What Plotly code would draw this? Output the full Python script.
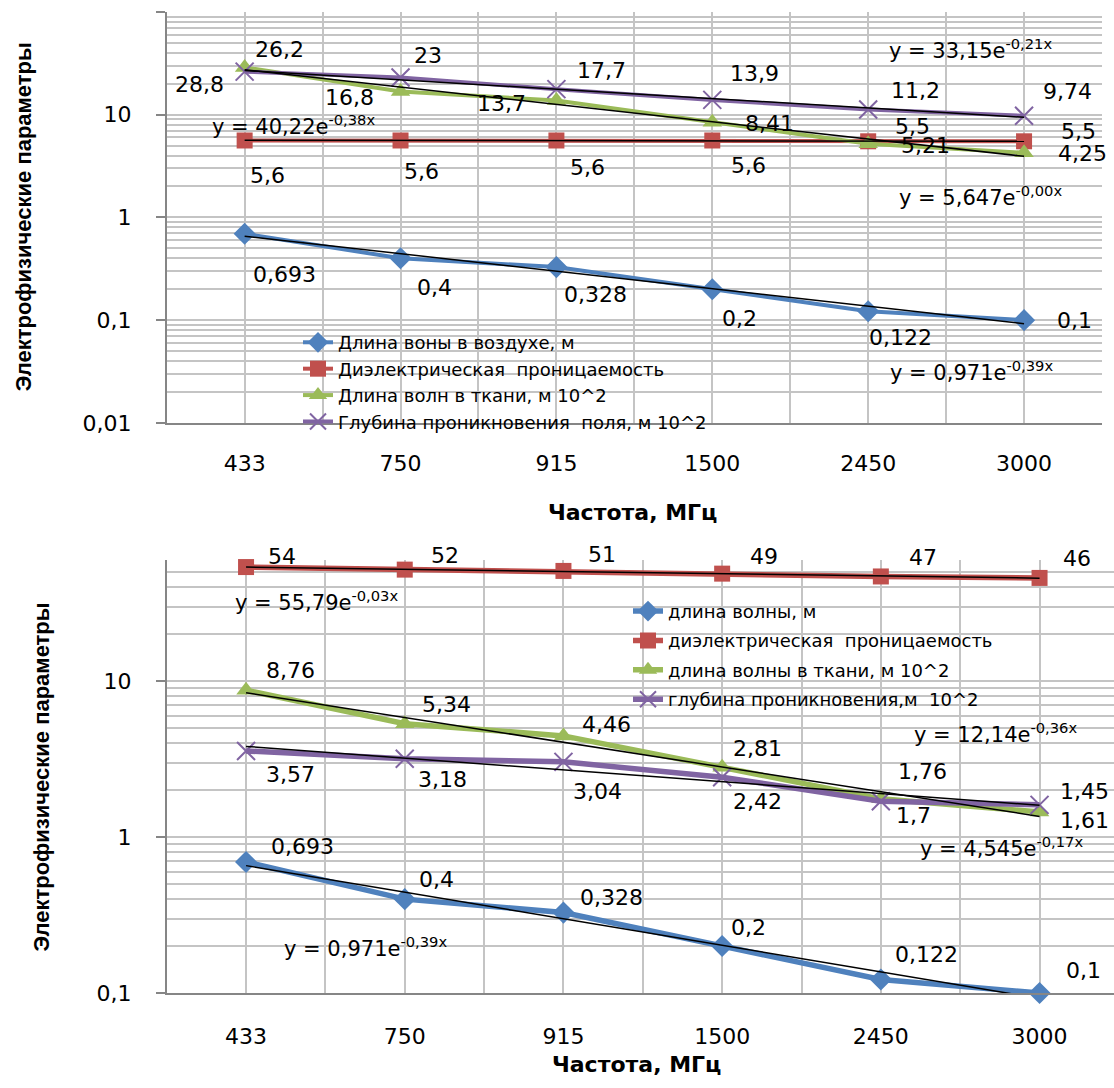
import numpy as np
import plotly.graph_objects as go

W, H = 1114, 1088

# ---------------- data ----------------
freqs = ["433", "750", "915", "1500", "2450", "3000"]

top_names = ["Длина воны в воздухе, м",
             "Диэлектрическая  проницаемость",
             "Длина волн в ткани, м 10^2",
             "Глубина проникновения  поля, м 10^2"]
top_air = [0.693, 0.4, 0.328, 0.2, 0.122, 0.1]
top_eps = [5.6, 5.6, 5.6, 5.6, 5.5, 5.5]
top_tissue = [28.8, 16.8, 13.7, 8.41, 5.21, 4.25]
top_depth = [26.2, 23, 17.7, 13.9, 11.2, 9.74]

bot_names = ["длина волны, м",
             "диэлектрическая  проницаемость",
             "длина волны в ткани, м 10^2",
             "глубина проникновения,м  10^2"]
bot_air = [0.693, 0.4, 0.328, 0.2, 0.122, 0.1]
bot_eps = [54, 52, 51, 49, 47, 46]
bot_tissue = [8.76, 5.34, 4.46, 2.81, 1.76, 1.45]
bot_depth = [3.57, 3.18, 3.04, 2.42, 1.7, 1.61]

top_eq = ["y = 0,971e<sup>-0,39x</sup>", "y = 5,647e<sup>-0,00x</sup>",
          "y = 40,22e<sup>-0,38x</sup>", "y = 33,15e<sup>-0,21x</sup>"]
bot_eq = ["y = 0,971e<sup>-0,39x</sup>", "y = 55,79e<sup>-0,03x</sup>",
          "y = 12,14e<sup>-0,36x</sup>", "y = 4,545e<sup>-0,17x</sup>"]

y_title = "Электрофизические параметры"
x_title = "Частота, МГц"

# ---------------- styling / placement ----------------
colors = ["#4F81BD", "#C0504D", "#9BBB59", "#8064A2"]
symbols = ["diamond", "square", "triangle-up", "x-thin"]
msizes = [17, 16, 17, 18]
GRID = "#C4C4C4"
AXIS = "#868686"
FONT = "DejaVu Sans"

# label offsets (dx right, dy up) in px for each point
top_off = [
    [(40, -41), (34, -29), (39, -27), (27, -29), (32, -26), (50, 0)],
    [(23, -35), (21, -31), (31, -27), (36, -25), (44, 15), (54, 10)],
    [(-45, -17), (-51, -6), (-55, -3), (57, -1), (57, -2), (58, -1)],
    [(35, 22), (27, 22), (45, 19), (42, 26), (47, 19), (43, 24)],
]
bot_off = [
    [(56, 15), (32, 20), (48, 15), (26, 19), (46, 25), (44, 22)],
    [(36, 11), (40, 14), (39, 16), (42, 17), (42, 19), (37, 19)],
    [(44, 20), (42, 19), (43, 11), (35, 19), (42, 27), (45, 20)],
    [(44, -24), (38, -21), (34, -30), (35, -24), (33, -14), (45, -16)],
]
# equation label positions (left px, center y px)
top_eq_pos = [(888, 375), (897, 198), (210, 127), (887, 50)]
bot_eq_pos = [(282, 958), (233, 608), (912, 742), (918, 857)]


def px(x):
    return x / W


def py(y):
    return 1 - y / H


def fmt(v):
    return f"{v:g}".replace(".", ",")


k = np.arange(1, 7)


def exp_trend(vals):
    b, a = np.polyfit(k, np.log(np.array(vals, dtype=float)), 1)
    return np.exp(a + b * k)


fig = go.Figure()
annotations = []


def add_panel(series, names, xa, ya, xgrid, legend, lw, offsets, eqs, eq_pos,
              tag):
    # invisible trace to carry the boundary-grid overlay axis
    fig.add_trace(go.Scatter(x=freqs, y=series[0], xaxis=xgrid, yaxis=ya,
                             mode="lines", opacity=0, showlegend=False,
                             hoverinfo="skip"))
    for i, (vals, name) in enumerate(zip(series, names)):
        mk = dict(symbol=symbols[i], size=msizes[i], color=colors[i])
        if symbols[i] == "x-thin":
            mk["line"] = dict(color=colors[i], width=2)
        fig.add_trace(go.Scatter(
            x=freqs, y=vals, name=name, xaxis=xa, yaxis=ya,
            mode="lines+markers", line=dict(color=colors[i], width=lw),
            marker=mk, cliponaxis=False, legend=legend,
            legendgroup=f"{tag}{i}"))
    for i, vals in enumerate(series):
        fig.add_trace(go.Scatter(
            x=freqs, y=exp_trend(vals), xaxis=xa, yaxis=ya, mode="lines",
            line=dict(color="black", width=1.5), showlegend=False,
            hoverinfo="skip"))
    for i, vals in enumerate(series):
        for j, v in enumerate(vals):
            dx, dy = offsets[i][j]
            annotations.append(dict(
                x=j, y=np.log10(v), xref=xa, yref=ya, text=fmt(v),
                showarrow=False, xshift=dx, yshift=dy,
                xanchor="center", yanchor="middle",
                font=dict(family=FONT, size=22, color="black")))
    for i, txt in enumerate(eqs):
        lx, ly = eq_pos[i]
        annotations.append(dict(
            x=px(lx), y=py(ly), xref="paper", yref="paper", text=txt,
            showarrow=False, xanchor="left", yanchor="middle",
            font=dict(family=FONT, size=21, color="black")))


add_panel([top_air, top_eps, top_tissue, top_depth], top_names,
          "x", "y", "x3", "legend", 4, top_off, top_eq, top_eq_pos, "t")
add_panel([bot_air, bot_eps, bot_tissue, bot_depth], bot_names,
          "x2", "y2", "x4", "legend2", 5.5, bot_off, bot_eq, bot_eq_pos, "b")

# axis titles
for (xx, yy) in [(632, 519), (636, 1077)]:
    annotations.append(dict(x=px(xx), y=py(yy), xref="paper", yref="paper",
                            text=f"<b>{x_title}</b>", showarrow=False,
                            xanchor="center", yanchor="middle",
                            font=dict(family=FONT, size=22, color="black")))
for (xx, yy) in [(23, 220), (42, 787)]:
    annotations.append(dict(x=px(xx), y=py(yy), xref="paper", yref="paper",
                            text=f"<b>{y_title}</b>", showarrow=False,
                            textangle=-90, xanchor="center", yanchor="middle",
                            font=dict(family="Liberation Sans", size=22,
                                      color="black")))

tick_font = dict(family=FONT, size=22, color="black")

xdom_top = [px(166.7), px(1102)]
ydom_top = [py(428), py(12)]
xdom_bot = [px(166.7), 1.0]
ydom_bot = [py(1005), py(566.7)]
bot_xmax = -0.5 + (W - 166.7) / 158.7


def xax(dom, anchor, rng, standoff):
    return dict(type="category", categoryorder="array", categoryarray=freqs,
                domain=dom, anchor=anchor, range=rng, showgrid=True,
                gridcolor=GRID, gridwidth=1.5, showline=True, linecolor=AXIS,
                linewidth=1.5, ticks="", tickfont=tick_font,
                ticklabelstandoff=standoff, zeroline=False, fixedrange=True)


def xgrid(over, anchor, rng):
    return dict(type="category", categoryorder="array", categoryarray=freqs,
                overlaying=over, anchor=anchor, range=rng, tickson="boundaries",
                showgrid=True, gridcolor=GRID, gridwidth=1.5,
                showticklabels=False, ticks="", showline=False, zeroline=False)


def yax(dom, anchor, rng, tv, tt, minor_vals):
    return dict(type="log", domain=dom, anchor=anchor, range=rng,
                tickmode="array", tickvals=tv, ticktext=tt,
                showgrid=True, gridcolor=GRID, gridwidth=1.5,
                minor=dict(tickmode="array", tickvals=minor_vals,
                           showgrid=True, gridcolor=GRID, gridwidth=1.5,
                           ticks=""),
                showline=True, linecolor=AXIS, linewidth=1.5,
                ticks="outside", ticklen=9, tickcolor=AXIS, tickwidth=1.5,
                tickfont=tick_font, ticklabelstandoff=20, zeroline=False)


minor_top = [m * 10.0 ** e for e in range(-2, 2) for m in range(2, 10)]
minor_bot = [m * 10.0 ** e for e in range(-1, 2) for m in range(2, 10)
             if m * 10.0 ** e < 60]

fig.update_layout(
    width=W, height=H,
    margin=dict(l=0, r=0, t=0, b=0),
    paper_bgcolor="white", plot_bgcolor="white",
    showlegend=True,
    xaxis=xax(xdom_top, "y", [-0.5, 5.5], 20),
    xaxis3=xgrid("x", "y", [-0.5, 5.5]),
    yaxis=yax(ydom_top, "x", [-2, 2], [0.01, 0.1, 1, 10, 100],
              ["0,01", "0,1", "1", "10", ""], minor_top),
    xaxis2=xax(xdom_bot, "y2", [-0.5, bot_xmax], 23),
    xaxis4=xgrid("x2", "y2", [-0.5, bot_xmax]),
    yaxis2=yax(ydom_bot, "x2", [-1, np.log10(60)], [0.1, 1, 10],
               ["0,1", "1", "10"], minor_bot),
    legend=dict(x=px(298), y=py(328), xanchor="left", yanchor="top",
                bgcolor="rgba(0,0,0,0)", font=dict(family=FONT, size=18,
                                                   color="black"),
                tracegroupgap=0),
    legend2=dict(x=px(628), y=py(600), xanchor="left", yanchor="top",
                 bgcolor="rgba(0,0,0,0)", font=dict(family=FONT, size=18,
                                                    color="black"),
                 tracegroupgap=3),
    annotations=annotations,
)

fig.write_html("out.html", config={"displayModeBar": False},
               post_script="document.body.style.margin='0px';")
